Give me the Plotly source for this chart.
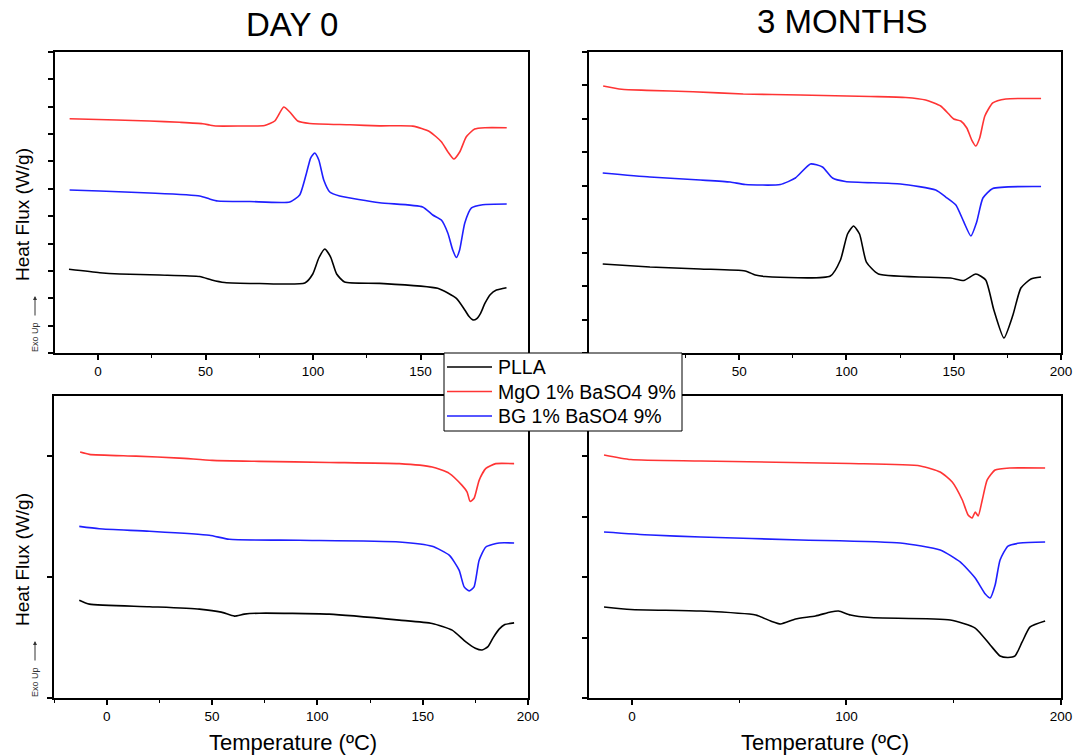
import plotly.graph_objects as go

# ---------------- DATA ----------------
SERIES_NAMES = ["PLLA", "MgO 1% BaSO4 9%", "BG 1% BaSO4 9%"]
SERIES_COLORS = ["#000000", "#ff3434", "#1f1fff"]
PANEL_TITLES = ["DAY 0", "3 MONTHS"]
X_TITLE = "Temperature (ºC)"
Y_TITLE = "Heat Flux (W/g)"
EXO_LABEL = "Exo Up"

# x tick labels per panel ("" where the legend box hides the label)
TL_XTICKS = [0, 50, 100, 150, 200]
TL_XLABELS = ["0", "50", "100", "150", ""]
TR_XTICKS = [0, 50, 100, 150, 200]
TR_XLABELS = ["", "50", "100", "150", "200"]
BL_XTICKS = [0, 50, 100, 150, 200]
BL_XLABELS = ["0", "50", "100", "150", "200"]
BR_XTICKS = [0, 100, 200]
BR_XLABELS = ["0", "100", "200"]

# Top-left: DAY 0 (first panel)
TL_PLLA_T = [-13.5, 0.8, 10.1, 28.7, 47.3, 52.9, 58.9, 75.2, 96.2, 99.9, 102.7, 105.5, 108.2, 111.0, 114.7,
             131.0, 158.0, 166.7, 170.6, 172.5, 174.4, 176.2, 178.0, 180.0, 182.5, 185.3, 190.0]
TL_PLLA_HF = [-1.471, -1.533, -1.556, -1.575, -1.602, -1.666, -1.712, -1.730, -1.721, -1.557, -1.264, -1.100,
              -1.246, -1.557, -1.703, -1.727, -1.818, -2.001, -2.214, -2.330, -2.395, -2.370, -2.270, -2.090,
              -1.930, -1.850, -1.807]
TL_MGO_T = [-13.2, 8.7, 24.0, 38.0, 48.7, 51.9, 54.7, 65.9, 77.5, 82.2, 86.4, 89.2, 92.9, 98.5, 117.1, 131.0,
            146.4, 154.3, 159.7, 162.7, 165.5, 168.3, 171.3, 175.2, 179.9, 190.1]
TL_MGO_HF = [1.281, 1.258, 1.239, 1.215, 1.190, 1.166, 1.148, 1.148, 1.157, 1.239, 1.495, 1.404, 1.239, 1.194,
             1.170, 1.150, 1.146, 1.044, 0.861, 0.678, 0.545, 0.678, 0.952, 1.093, 1.117, 1.117]
TL_BG_T = [-13.2, 0.8, 24.0, 47.3, 51.9, 55.7, 70.6, 89.2, 93.8, 97.1, 98.9, 100.8, 102.7, 105.0, 107.8, 112.4,
           131.0, 151.0, 155.7, 159.7, 162.7, 165.0, 166.7, 168.2, 170.6, 173.7, 178.9, 190.1]
TL_BG_HF = [-0.022, -0.040, -0.076, -0.131, -0.186, -0.223, -0.232, -0.241, -0.113, 0.307, 0.563, 0.655, 0.526,
            0.161, -0.058, -0.131, -0.254, -0.332, -0.478, -0.570, -0.807, -1.118, -1.255, -1.118, -0.625,
            -0.350, -0.290, -0.277]

# Top-right: 3 MONTHS (first panel)
TR_PLLA_T = [-13.6, 8.4, 31.8, 52.8, 57.5, 62.1, 92.5, 97.2, 100.5, 103.3, 106.1, 109.3, 114.9, 148.6, 154.7,
             160.3, 164.9, 168.7, 173.4, 177.6, 181.3, 186.0, 190.7]
TR_PLLA_HF = [-1.169, -1.214, -1.244, -1.274, -1.334, -1.356, -1.349, -1.110, -0.721, -0.602, -0.721, -1.140,
              -1.319, -1.379, -1.416, -1.319, -1.408, -1.857, -2.276, -1.932, -1.528, -1.394, -1.364]
TR_MGO_T = [-13.4, -4.8, 6.9, 28.5, 51.9, 78.5, 111.2, 127.6, 136.9, 143.9, 147.7, 150.0, 153.3, 156.1, 158.4,
            160.3, 162.1, 164.5, 168.2, 174.3, 190.7]
TR_MGO_HF = [1.492, 1.442, 1.427, 1.406, 1.372, 1.357, 1.335, 1.320, 1.282, 1.193, 1.073, 0.998, 0.968, 0.864,
             0.684, 0.595, 0.714, 1.043, 1.238, 1.297, 1.305]
TR_BG_T = [-13.6, 8.4, 31.8, 45.8, 52.8, 69.2, 76.2, 83.2, 88.8, 93.5, 99.5, 125.2, 141.6, 146.3, 151.0, 154.7,
           158.0, 160.7, 163.6, 168.2, 190.7]
TR_BG_HF = [0.191, 0.131, 0.086, 0.056, 0.019, 0.019, 0.116, 0.326, 0.281, 0.116, 0.064, 0.027, -0.063, -0.168,
            -0.287, -0.541, -0.751, -0.541, -0.183, -0.041, -0.011]

# Bottom-left: DAY 0 (second panel)
BL_PLLA_T = [-13.0, -8.2, 20.3, 44.0, 54.4, 60.6, 65.3, 72.4, 105.6, 138.9, 154.5, 164.0, 170.5, 175.0, 178.2,
             181.0, 183.5, 186.3, 189.0, 193.4]
BL_PLLA_HF = [-1.190, -1.223, -1.244, -1.264, -1.289, -1.322, -1.306, -1.298, -1.306, -1.355, -1.383, -1.438,
              -1.535, -1.588, -1.603, -1.575, -1.500, -1.430, -1.392, -1.378]
BL_MGO_T = [-12.6, -8.2, 13.9, 34.5, 50.1, 72.4, 105.6, 138.9, 154.5, 162.6, 168.7, 171.1, 172.5, 174.4, 176.8,
            180.0, 184.7, 193.4]
BL_MGO_HF = [0.036, 0.017, 0.002, -0.014, -0.033, -0.041, -0.050, -0.060, -0.088, -0.140, -0.240, -0.295,
             -0.372, -0.347, -0.198, -0.099, -0.060, -0.060]
BL_BG_T = [-13.0, -3.5, 20.3, 48.7, 58.2, 91.4, 138.9, 154.5, 162.6, 167.3, 169.7, 172.1, 174.4, 176.8, 180.0,
           186.3, 193.4]
BL_BG_HF = [-0.579, -0.599, -0.620, -0.653, -0.686, -0.694, -0.708, -0.744, -0.818, -0.942, -1.080, -1.113,
            -1.080, -0.860, -0.750, -0.717, -0.717]

# Bottom-right: 3 MONTHS (second panel)
BR_PLLA_T = [-13.0, -0.5, 32.1, 57.7, 64.7, 69.3, 76.3, 85.6, 92.6, 96.3, 101.9, 111.2, 148.4, 160.0, 167.0,
             171.6, 175.3, 178.6, 181.9, 185.6, 192.6]
BR_PLLA_HF = [-1.747, -1.767, -1.780, -1.813, -1.863, -1.887, -1.846, -1.821, -1.788, -1.780, -1.813, -1.834,
              -1.854, -1.921, -2.061, -2.152, -2.165, -2.152, -2.036, -1.912, -1.863]
BR_MGO_T = [-13.0, -0.5, 32.1, 101.9, 134.4, 143.7, 149.3, 154.0, 156.7, 158.6, 160.0, 161.4, 163.3, 165.6,
            169.3, 176.3, 192.6]
BR_MGO_HF = [-0.488, -0.526, -0.538, -0.559, -0.579, -0.629, -0.712, -0.861, -0.985, -1.010, -0.960, -0.993,
             -0.861, -0.695, -0.613, -0.596, -0.596]
BR_BG_T = [-13.0, 8.8, 32.1, 78.6, 125.1, 143.7, 153.0, 160.0, 164.7, 167.0, 169.3, 171.6, 175.3, 180.9, 192.6]
BR_BG_HF = [-1.126, -1.151, -1.167, -1.192, -1.217, -1.275, -1.374, -1.507, -1.639, -1.672, -1.565, -1.358,
            -1.242, -1.217, -1.209]

# ---------------- FIGURE ----------------
W, H = 1075, 756
FONT = "Liberation Sans, Arial, sans-serif"

panels = [
    ("x", "y", [(TL_PLLA_T, TL_PLLA_HF), (TL_MGO_T, TL_MGO_HF), (TL_BG_T, TL_BG_HF)]),
    ("x2", "y2", [(TR_PLLA_T, TR_PLLA_HF), (TR_MGO_T, TR_MGO_HF), (TR_BG_T, TR_BG_HF)]),
    ("x3", "y3", [(BL_PLLA_T, BL_PLLA_HF), (BL_MGO_T, BL_MGO_HF), (BL_BG_T, BL_BG_HF)]),
    ("x4", "y4", [(BR_PLLA_T, BR_PLLA_HF), (BR_MGO_T, BR_MGO_HF), (BR_BG_T, BR_BG_HF)]),
]

fig = go.Figure()
for xa, ya, series in panels:
    for (t, hf), name, col in zip(series, SERIES_NAMES, SERIES_COLORS):
        fig.add_trace(go.Scatter(
            x=t, y=hf, mode="lines", name=name, xaxis=xa, yaxis=ya,
            line=dict(color=col, width=1.6, shape="spline", smoothing=0.55),
            showlegend=False,
        ))


def px_x(p):
    return p / W


def px_y(p):
    return 1 - p / H


def xaxis(dom, rng, tickvals, ticktext, mdtick, anchor):
    return dict(domain=[px_x(dom[0]), px_x(dom[1])], range=rng, anchor=anchor,
                tickmode="array", tickvals=tickvals, ticktext=ticktext,
                showline=True, linecolor="black", linewidth=1.5, mirror=True,
                ticks="outside", ticklen=5, tickwidth=1.5, tickcolor="black",
                minor=dict(dtick=mdtick, tick0=0, ticks="outside", ticklen=3, tickwidth=1.2,
                           tickcolor="black", showgrid=False),
                showgrid=False, zeroline=False, automargin=False,
                tickfont=dict(family=FONT, size=13.5, color="black"), fixedrange=True)


def yaxis(dom, rng, dtick, anchor):
    return dict(domain=[px_y(dom[1]), px_y(dom[0])], range=rng, dtick=dtick, tick0=0, anchor=anchor,
                showline=True, linecolor="black", linewidth=1.5, mirror=True,
                ticks="outside", ticklen=5, tickwidth=1.5, tickcolor="black",
                showticklabels=False, showgrid=False, zeroline=False, automargin=False, fixedrange=True)


fig.update_layout(
    template="none",
    width=W, height=H, autosize=False,
    margin=dict(l=0, r=0, t=0, b=0, pad=0),
    paper_bgcolor="white", plot_bgcolor="white",
    font=dict(family=FONT, color="black"),
    xaxis=xaxis((55, 528), [-20, 200], TL_XTICKS, TL_XLABELS, 25, "y"),
    yaxis=yaxis((52, 353), [-3.0, 2.5], 0.5, "x"),
    xaxis2=xaxis((589, 1061), [-20, 200], TR_XTICKS, TR_XLABELS, 25, "y2"),
    yaxis2=yaxis((52, 353), [-2.5, 2.0], 0.5, "x2"),
    xaxis3=xaxis((54, 528), [-25, 200], BL_XTICKS, BL_XLABELS, 25, "y3"),
    yaxis3=yaxis((396, 698), [-2.0, 0.5], 1.0, "x3"),
    xaxis4=xaxis((589, 1061), [-20, 200], BR_XTICKS, BR_XLABELS, 50, "y4"),
    yaxis4=yaxis((396, 698), [-2.5, 0.0], 0.5, "x4"),
    showlegend=False,
)

ann = []
shapes = []


def text(t, x, y, size, angle=0, color="black", xanchor="center"):
    ann.append(dict(text=t, x=px_x(x), y=px_y(y), xref="paper", yref="paper", textangle=angle,
                    xanchor=xanchor, yanchor="middle", showarrow=False,
                    font=dict(family=FONT, size=size, color=color)))


text(PANEL_TITLES[0], 292, 25, 33)
text(PANEL_TITLES[1], 842, 22, 33)
for yc in (215, 560):
    text(Y_TITLE, 22, yc, 19, angle=-90)
for ytext, ytip in ((337, 296), (682, 641)):
    text(EXO_LABEL, 35, ytext, 9, angle=-90, color="#333333")
    ann.append(dict(text="", x=px_x(35), y=px_y(ytip), xref="paper", yref="paper",
                    showarrow=True, ax=0, ay=21, axref="pixel", ayref="pixel",
                    arrowhead=2, arrowsize=0.8, arrowwidth=1, arrowcolor="#333333", standoff=0))
for xc in (293, 825):
    text(X_TITLE, xc, 742, 22)

# Legend box (drawn over the axes, as in the original)
LEG_BOX = (444, 353, 682, 431)
shapes.append(dict(type="rect", xref="paper", yref="paper", layer="above",
                   x0=px_x(LEG_BOX[0]), x1=px_x(LEG_BOX[2]), y0=px_y(LEG_BOX[3]), y1=px_y(LEG_BOX[1]),
                   fillcolor="white", line=dict(color="black", width=1)))
for i, (name, col) in enumerate(zip(SERIES_NAMES, SERIES_COLORS)):
    yrow = 367 + i * 24.5
    shapes.append(dict(type="line", xref="paper", yref="paper", layer="above",
                       x0=px_x(447), x1=px_x(492), y0=px_y(yrow), y1=px_y(yrow),
                       line=dict(color=col, width=1.6)))
    text(name, 496, yrow, 19.5, xanchor="left")

fig.update_layout(annotations=ann, shapes=shapes)

fig.write_html("out.html", include_plotlyjs=True, config={"displayModeBar": False})
